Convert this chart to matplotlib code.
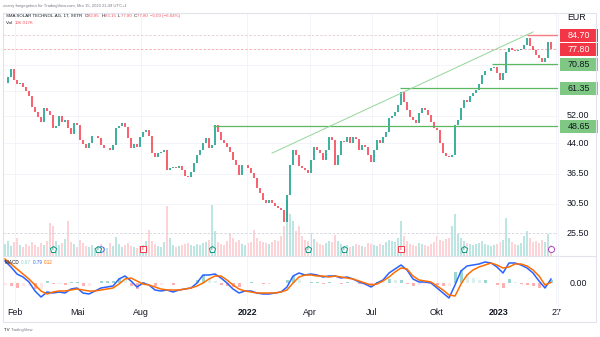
import matplotlib
matplotlib.use("Agg")
import matplotlib.pyplot as plt
import matplotlib.transforms as mtransforms
from matplotlib.patches import Rectangle
from matplotlib.ticker import NullLocator
import numpy as np

# closes sampled every third trading day, Jan 2021 -> Mar 15 2023 (EUR)
closes = [
    63.3, 65.7, 68.9, 64.5, 62.9, 63.3, 61.8, 60.3, 58.5, 54.8,
    53.1, 51.5, 50.0, 54.4, 53.4, 52.2, 48.2, 48.8, 51.8, 50.0,
    50.6, 48.2, 46.5, 49.7, 49.1, 44.8, 43.7, 42.6, 44.0, 45.9,
    45.9, 45.3, 43.5, 42.6, 42.6, 42.2, 43.5, 48.2, 48.8, 49.7,
    48.5, 45.3, 42.6, 43.7, 42.9, 45.6, 47.1, 47.6, 45.9, 41.4,
    40.4, 41.4, 41.7, 42.2, 37.4, 37.8, 38.1, 37.8, 38.3, 37.4,
    36.0, 35.8, 36.9, 39.0, 40.9, 42.2, 44.0, 45.3, 42.6, 43.5,
    49.1, 47.1, 44.8, 44.0, 42.9, 41.7, 39.7, 38.5, 36.3, 38.5,
    38.5, 37.8, 36.7, 35.6, 33.5, 32.5, 31.2, 30.6, 31.2, 30.6,
    30.1, 29.7, 29.3, 27.3, 32.1, 38.5, 42.2, 40.9, 38.3, 37.8,
    37.4, 36.7, 39.7, 42.9, 42.2, 41.4, 39.7, 42.2, 45.6, 44.8,
    38.5, 40.9, 44.5, 44.3, 45.6, 44.0, 45.6, 45.1, 42.2, 43.5,
    42.9, 40.9, 39.2, 42.2, 44.8, 44.0, 45.6, 47.1, 51.2, 51.8,
    53.1, 55.4, 59.9, 56.4, 53.8, 51.5, 50.6, 49.7, 52.8, 54.4,
    53.8, 52.2, 50.0, 48.2, 47.6, 44.0, 41.4, 40.7, 40.4, 40.9,
    49.1, 50.6, 54.4, 57.1, 56.4, 58.5, 59.5, 60.7, 62.9, 66.5,
    67.9, 68.3, 69.4, 69.8, 67.1, 64.5, 67.1, 76.4, 78.3, 77.3,
    76.8, 77.3, 77.8, 79.7, 83.2, 79.3, 77.3, 75.0, 73.7, 71.9,
    73.7, 81.2, 77.8,
]
# volume in thousand shares, same sampling
volumes = [
    120, 150, 100, 140, 180, 110, 90, 120, 100, 140,
    110, 90, 130, 110, 150, 330, 300, 150, 110, 130,
    170, 350, 140, 120, 90, 160, 130, 100, 90, 110,
    80, 100, 120, 90, 80, 130, 100, 190, 120, 90,
    110, 130, 100, 90, 80, 100, 110, 150, 260, 150,
    120, 100, 90, 140, 500, 180, 110, 90, 100, 110,
    120, 130, 110, 100, 120, 110, 130, 140, 160, 510,
    250, 140, 120, 110, 150, 230, 180, 140, 160, 120,
    110, 130, 140, 260, 180, 150, 140, 130, 120, 140,
    160, 150, 200, 300, 560, 420, 350, 250, 300, 200,
    160, 150, 230, 170, 140, 120, 110, 130, 150, 140,
    210, 150, 120, 100, 110, 90, 100, 120, 110, 100,
    90, 130, 120, 110, 100, 120, 110, 140, 160, 150,
    140, 180, 350, 200, 150, 120, 110, 100, 130, 120,
    110, 100, 120, 140, 200, 160, 150, 170, 180, 300,
    420, 220, 180, 150, 130, 120, 110, 120, 130, 150,
    120, 110, 100, 110, 120, 140, 160, 380, 180, 140,
    120, 110, 130, 200, 250, 180, 140, 150, 130, 160,
    140, 220, 106,
]
# MACD (12, 26, 9) and its signal line, every sixth trading day
macd = [
    4.4, 3.2, 1.8, 1.2, 0.2, -1.6, -2.8, -1.8, -2.0, -1.8,
    -2.0, -1.2, -1.0, -2.0, -2.2, -1.6, -1.0, -0.8, -0.6, 0.8,
    1.4, 0.4, -0.8, 0.0, -0.4, -1.4, -1.6, -1.4, -1.8, -1.4,
    -1.2, -1.0, 0.0, 1.6, 1.6, 1.8, 1.0, 0.0, -1.2, -2.0,
    -1.6, -1.6, -2.0, -2.2, -2.2, -2.0, -1.8, -0.8, 1.4, 2.0,
    1.6, 1.8, 1.6, 1.2, 1.4, 1.4, 1.0, 1.2, 0.8, 0.2,
    -0.2, -0.8, 0.0, 0.6, 2.0, 2.8, 3.6, 2.6, 0.8, 0.2,
    0.2, 0.0, -1.0, -2.0, -3.0, -0.4, 2.4, 3.4, 3.6, 3.8,
    4.2, 4.0, 3.2, 2.0, 4.0, 4.0, 3.6, 3.0, 2.0, 0.4,
    -1.0, 0.79,
]
signal = [
    4.8, 3.8, 2.8, 1.8, 0.8, -0.4, -1.6, -2.2, -1.8, -1.6,
    -1.6, -1.4, -1.2, -1.4, -1.6, -1.6, -1.4, -1.2, -1.0, -0.2,
    0.8, 1.0, 0.4, -0.2, -0.4, -0.8, -1.2, -1.4, -1.4, -1.4,
    -1.2, -1.0, -0.6, 0.0, 0.8, 1.4, 1.4, 0.6, -0.4, -1.2,
    -1.6, -1.8, -2.0, -2.0, -2.0, -2.0, -1.8, -1.4, 0.0, 1.2,
    1.6, 1.6, 1.4, 1.4, 1.2, 1.4, 1.2, 1.0, 0.8, 0.4,
    0.0, -0.4, -0.2, 0.4, 1.2, 2.2, 3.0, 2.8, 1.4, 0.6,
    0.4, 0.2, -0.6, -1.4, -2.4, -2.6, -0.2, 1.6, 2.6, 3.2,
    3.6, 4.0, 3.6, 3.0, 3.2, 3.8, 3.8, 3.4, 2.6, 1.4,
    -0.4, 0.12,
]

# drawn levels
support = [48.65, 61.35, 70.85]
support_start = [69.3, 131.7, 162.3]
resistance = 84.70
resistance_start = 174
last_price = 77.80
trend_x = [89, 176]
trend_y = [41.4, 86.3]
scale_ticks = [52.00, 44.00, 36.50, 30.50, 25.50]
grid_levels = [30.5, 36.5, 44.0, 52.0, 60.5, 70.5]

month_idx = [3.3, 24.3, 45.3, 80.7, 101.7, 122.3, 144.0, 164.7, 183.7]
month_lbl = ["Feb", "Mai", "Aug", "2022", "Apr", "Jul", "Okt", "2023", "27"]

earn_beat = [16, 31, 69, 101, 113, 153]
earn_miss = [46, 132]

UP, DOWN = "#089981", "#f23645"
TXT = "#131722"
GRID = "#f0f3fa"

plt.rcParams["font.family"] = ["Liberation Sans", "DejaVu Sans"]

W, H = 600, 337
fig = plt.figure(figsize=(W / 100, H / 100), dpi=100)
fig.patch.set_facecolor("white")


def fx(px):
    return px / W


def fy(py):
    return 1 - py / H


L, R = 3, 558
main_rect = [fx(L), fy(256), fx(R) - fx(L), (256 - 13) / H]
ax_vol = fig.add_axes(main_rect)
ax = fig.add_axes(main_rect)
ax_m = fig.add_axes([fx(L), fy(304), fx(R) - fx(L), 48 / H])
ax.patch.set_alpha(0)

closes = np.array(closes)
volumes = np.array(volumes)
x = np.arange(len(closes))
opens = np.r_[closes[0], closes[:-1]]
up = closes >= opens
xlim = (-0.667, 184.33)

for a in (ax_vol, ax, ax_m):
    a.set_xlim(*xlim)
    a.set_xticks([])
    a.set_yticks([])
    for s in a.spines.values():
        s.set_visible(False)

# volume underlay
vol_cols = np.where(up, "#9ad8d1", "#fbbcc0")
ax_vol.bar(x, volumes, width=0.6, color=vol_cols, alpha=0.65, linewidth=0)
ax_vol.set_ylim(0, 2430)

# price pane
ax.set_yscale("log")
ax.set_ylim(22.19, 96.8)
ax.yaxis.set_minor_locator(NullLocator())
ax.set_yticks([])
for g in grid_levels:
    ax.axhline(g, color=GRID, lw=0.6, zorder=0)
for m in month_idx:
    ax.axvline(m, color=GRID, lw=0.6, zorder=0)
    ax_m.axvline(m, color=GRID, lw=0.6, zorder=0)

ax.axhline(resistance, color="#e9c9ce", lw=0.6, ls=(0, (3, 2)), zorder=1)
ax.axhline(last_price, color="#f6a3a9", lw=0.6, ls=(0, (3, 2)), zorder=1)
ax.axhline(25.5, color="#d1d4dc", lw=0.6, ls=(0, (3, 2)), zorder=1)

ax.vlines(x[up], opens[up], closes[up], color=UP, lw=1.1, zorder=3)
ax.vlines(x[~up], closes[~up], opens[~up], color=DOWN, lw=1.1, zorder=3)

for lvl, start in zip(support, support_start):
    ax.hlines(lvl, start, xlim[1], color="#5cb860", lw=0.9, zorder=4)
ax.hlines(resistance, resistance_start, xlim[1], color="#f57c83", lw=1.0, zorder=4)
ax.plot(trend_x, trend_y, color="#94d598", lw=0.7, zorder=4)

# earnings badges along the bottom of the price pane
badge_tr = mtransforms.blended_transform_factory(ax.transData, ax.transAxes)
ax.plot(earn_beat, [0.029] * len(earn_beat), "p", ms=4.6, mfc="white",
        mec=UP, mew=0.7, transform=badge_tr, zorder=5)
ax.plot(earn_miss, [0.029] * len(earn_miss), "s", ms=4.0, mfc="white",
        mec=DOWN, mew=0.7, transform=badge_tr, zorder=5)
ax.plot([32], [0.029], "o", ms=4.0, mfc="none", mec="#2962ff", mew=0.6,
        transform=badge_tr, zorder=4)
ax.plot([182], [0.029], "o", ms=4.4, mfc="white", mec="#ab47bc", mew=0.7,
        transform=badge_tr, zorder=5)
for e in earn_beat:
    ax.text(e, 0.029, "E", color=UP, fontsize=2.4, ha="center", va="center",
            transform=badge_tr, zorder=6)
for e in earn_miss:
    ax.text(e, 0.029, "E", color=DOWN, fontsize=2.4, ha="center", va="center",
            transform=badge_tr, zorder=6)

# MACD pane
macd = np.array(macd)
signal = np.array(signal)
hist = macd - signal
mx = np.arange(len(macd)) * 2
prev = np.r_[hist[0], hist[:-1]]
hcols = np.where(hist >= 0,
                 np.where(hist >= prev, "#26a69a", "#b2dfdb"),
                 np.where(hist < prev, "#ff5252", "#ffcdd2"))
ax_m.bar(mx, hist, width=1.0, color=hcols, alpha=0.45, linewidth=0)
ax_m.plot(mx, macd, color="#2962ff", lw=1.1)
ax_m.plot(mx, signal, color="#ff6d00", lw=1.1)
ax_m.set_ylim(-4.2, 5.4)

# time scale
axis_tr = mtransforms.blended_transform_factory(ax_m.transData, ax_m.transAxes)
for m, lbl in zip(month_idx, month_lbl):
    ax_m.text(m, -0.17, lbl, color=TXT, fontsize=6.4, ha="center", va="center",
              fontweight="bold" if lbl.startswith("20") else "normal",
              transform=axis_tr, clip_on=False)


def price_fy(p):
    disp = ax.transData.transform((0, p))
    return fig.transFigure.inverted().transform(disp)[1]


# price scale
fig.text(fx(577), fy(18), "EUR", color=TXT, fontsize=6.4, ha="center", va="center")
for t in scale_ticks:
    fig.text(fx(578), price_fy(t), f"{t:.2f}", color=TXT, fontsize=6.4,
             ha="center", va="center")
fig.text(fx(578), fy(283), "0.00", color=TXT, fontsize=6.4, ha="center", va="center")

boxes = [(resistance, "#f23645", "white"), (last_price, "#f23645", "white")]
boxes += [(lvl, "#7fc883", TXT) for lvl in support]
for p, bg, fg in boxes:
    cy = price_fy(p)
    fig.add_artist(Rectangle((fx(560), cy - 6.5 / H), 38 / W, 13 / H,
                             facecolor=bg, edgecolor="none",
                             transform=fig.transFigure))
    fig.text(fx(579), cy, f"{p:.2f}", color=fg, fontsize=6.4, ha="center",
             va="center")

# frame and separators
fig.add_artist(Rectangle((fx(3), fy(322)), fx(596) - fx(3), (322 - 13) / H,
                         fill=False, edgecolor="#e0e3eb", lw=0.8,
                         transform=fig.transFigure))
fig.add_artist(plt.Line2D([fx(3), fx(596)], [fy(256), fy(256)],
                          color="#e0e3eb", lw=0.8))
fig.add_artist(plt.Line2D([fx(558), fx(558)], [fy(13), fy(312)],
                          color="#f0f3fa", lw=0.6))


def chain(px, py, parts, size):
    r = fig.canvas.get_renderer()
    xf = fx(px)
    for s, c in parts:
        t = fig.text(xf, fy(py), s, color=c, fontsize=size, va="center", ha="left")
        xf += t.get_window_extent(r).width / W


GREY = "#787b86"
RED = "#f7525f"
chain(3, 6, [("zvarry freigegeben für TradingView.com, Mrz 15, 2023 21:49 UTC+1", GREY)], 3.0)
chain(6, 16, [("SMA SOLAR TECHNOL.AG, 1T, XETR  ", TXT), ("O", TXT), ("82.85  ", RED),
              ("H", TXT), ("83.15  ", RED), ("L", TXT), ("77.80  ", RED),
              ("C", TXT), ("77.80  ", RED), ("\u22125.00 (\u22126.04%)", RED)], 3.2)
chain(6, 23, [("Vol  ", TXT), ("106.017K", RED)], 3.2)
chain(5, 262, [("MACD  ", TXT), ("0.67  ", "#8fd3cc"), ("0.79  ", "#2962ff"),
               ("0.12", "#ff6d00")], 3.3)
chain(4, 330, [("TV ", TXT)], 3.2)
chain(11, 330, [("TradingView", GREY)], 3.0)

fig.savefig("out.png", dpi=100, facecolor="white")
